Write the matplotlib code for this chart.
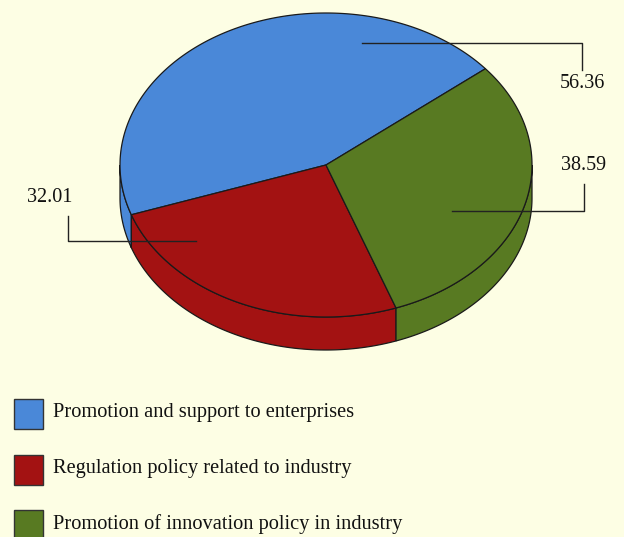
import numpy as np
import matplotlib
matplotlib.use("Agg")
import matplotlib.pyplot as plt
from matplotlib.patches import Polygon, Rectangle

categories = [
    "Promotion and support to enterprises",
    "Regulation policy related to industry",
    "Promotion of innovation policy in industry",
]
values = [56.36, 32.01, 38.59]
colors = ["#4a88d8", "#a31212", "#587a22"]
value_labels = ["56.36", "32.01", "38.59"]

BG = "#fdfee4"
plt.rcParams["font.family"] = ["Liberation Serif", "DejaVu Serif"]

fig = plt.figure(figsize=(6.24, 5.37), dpi=100, facecolor=BG)
ax = fig.add_axes([0, 0, 1, 1])
ax.set_xlim(0, 624)
ax.set_ylim(537, 0)
ax.axis("off")
ax.set_facecolor(BG)

# ellipse geometry of the top face (pixel units), and wall depth
cx, cy, a, b, depth = 326, 165, 206, 152, 33
start = 39.3  # degrees, counter-clockwise


def pt(theta_deg, dy=0.0):
    t = np.radians(theta_deg)
    return cx + a * np.cos(t), cy - b * np.sin(t) + dy


def arc(t1, t2, dy=0.0, n=200):
    ts = np.linspace(t1, t2, n)
    x, y = pt(ts, dy)
    return np.column_stack([x, y])


total = sum(values)
spans = [v / total * 360 for v in values]
bounds = []
t = start
for s in spans:
    bounds.append((t, t + s))
    t += s

# side walls: only the front half (180..360 degrees) is visible
for (t1, t2), col in zip(bounds, colors):
    for off in (0, 360, -360):
        lo = max(t1 + off, 180)
        hi = min(t2 + off, 360)
        if hi > lo:
            top = arc(lo, hi)
            bot = arc(hi, lo, dy=depth)
            poly = Polygon(np.vstack([top, bot]), closed=True, facecolor=col,
                           edgecolor="#1a1a1a", linewidth=0.9, zorder=2)
            ax.add_patch(poly)

# top faces
for (t1, t2), col in zip(bounds, colors):
    pts = np.vstack([[cx, cy], arc(t1, t2)])
    ax.add_patch(Polygon(pts, closed=True, facecolor=col, edgecolor="#1a1a1a",
                         linewidth=0.9, zorder=3))

# leader lines and value labels
line_kw = dict(color="#222222", linewidth=1.0, zorder=5)
txt_kw = dict(fontsize=14.5, color="#111111", ha="center", va="center", zorder=6)

# blue slice
ax.plot([362, 582, 582], [43, 43, 70], **line_kw)
ax.text(582, 83, value_labels[0], **txt_kw)
# green slice
ax.plot([452, 584, 584], [211, 211, 184], **line_kw)
ax.text(584, 166, value_labels[2], **txt_kw)
# red slice
ax.plot([196, 68, 68], [241, 241, 216], **line_kw)
ax.text(50, 197, value_labels[1], **txt_kw)

# legend
leg_y = [414, 470, 525]
for yy, col, name in zip(leg_y, colors, categories):
    ax.add_patch(Rectangle((14, yy - 15), 29, 30, facecolor=col,
                           edgecolor="#333333", linewidth=1.0, zorder=4))
    ax.text(53, yy - 1, name, fontsize=14.7, color="#111111", ha="left",
            va="center", zorder=6)

fig.savefig("out.png", dpi=100, facecolor=BG)
